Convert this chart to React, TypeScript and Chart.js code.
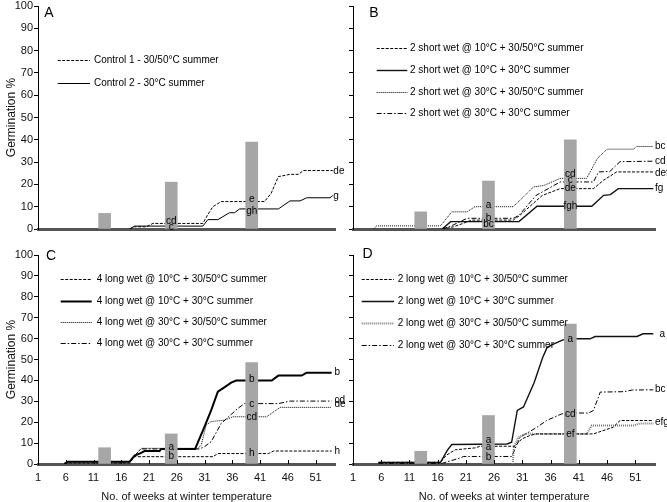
import React, { useEffect, useRef } from 'react';
import { Chart, registerables } from 'chart.js';

Chart.register(...registerables);

const FAMILY = "'Liberation Sans', Arial, Helvetica, sans-serif";
Chart.defaults.font.family = FAMILY;

// ---------------- data ----------------
const X_TICKS = [1, 6, 11, 16, 21, 26, 31, 36, 41, 46, 51];
const BAR_WEEKS = [13, 25, 39.5];
const X_TITLE = 'No. of weeks at winter temperature';
const Y_TITLE = 'Germination %';

// Panel A
const A_LEGEND = ['Control 1 - 30/50°C summer', 'Control 2 - 30°C summer'];
const A_BARS = [7, 21, 39];
const A1_WEEKS = [17.5, 18.4, 20.5, 21.7, 30.7, 31.6, 32.5, 34.0, 41.8, 43.0, 44.3, 46.4, 47.9, 48.8, 54.1];
const A1_VALUES = [0, 1, 1, 2.5, 2.5, 6.5, 10, 12.3, 12.3, 16, 23.5, 24.5, 24.5, 26.2, 26.2];
const A2_WEEKS = [17.5, 18.4, 30.7, 31.6, 33.4, 35.5, 36.4, 37.3, 44.3, 46.4, 48.2, 49.4, 53.6, 54.1];
const A2_VALUES = [0, 1.3, 1.3, 4.2, 4.2, 7.3, 7.3, 9, 9, 12.6, 12.6, 14, 14, 15];
const A_BAR_NOTES: [string, number, number][] = [['cd', 25, 3.6], ['c', 25, 1.0], ['e', 39.5, 13.3], ['gh', 39.5, 7.8]];
const A_END_NOTES: [string, number, number][] = [['de', 54.2, 26], ['g', 54.2, 14.7]];

// Panel B
const B_LEGEND = [
  '2 short wet @ 10°C + 30/50°C summer',
  '2 short wet @ 10°C + 30°C summer',
  '2 short wet @ 30°C + 30/50°C summer',
  '2 short wet @ 30°C + 30°C summer',
];
const B_BARS = [7.7, 21.5, 40];
const B1_WEEKS = [16.8, 18.8, 20.5, 22.0, 29.4, 30.5, 34.5, 37.7, 43.6, 45.4, 47.7, 54.2];
const B1_VALUES = [0, 1, 2.5, 4, 4, 6, 15, 18.1, 18.1, 21.9, 25.6, 25.6];
const B2_WEEKS = [16.8, 18.3, 30.4, 33.6, 43.3, 45.4, 46.6, 48.0, 54.2];
const B2_VALUES = [0, 3.3, 3.3, 10.2, 10.2, 15.1, 15.4, 18.1, 18.1];
const B3_WEEKS = [4.6, 5.2, 16.5, 18.5, 21.2, 22.6, 29.4, 31.2, 33.0, 34.8, 37.7, 42.4, 44.3, 46.0, 50.7, 51.2, 54.2];
const B3_VALUES = [0, 1.4, 1.4, 7.7, 7.7, 10, 10, 14.4, 18.9, 19.5, 22.7, 22.7, 31.7, 35.8, 35.8, 37, 37];
const B4_WEEKS = [16.8, 18.5, 21.2, 29.4, 30.4, 33.4, 37.7, 43.6, 44.5, 46.5, 48.3, 54.2];
const B4_VALUES = [0, 1.5, 4.8, 4.8, 6.1, 15, 21.1, 21.1, 25.6, 25.8, 30.2, 30.4];
const B_BAR_NOTES: [string, number, number][] = [
  ['a', 25, 10.8], ['b', 25, 4.8], ['bc', 25, 2.2],
  ['cd', 39.5, 24.5], ['c', 39.5, 21.7], ['de', 39.5, 18.4], ['fgh', 39.5, 10.3],
];
const B_END_NOTES: [string, number, number][] = [['bc', 54.5, 36.9], ['cd', 54.5, 30.5], ['def', 54.5, 25.2], ['fg', 54.5, 18.1]];

// Panel C
const C_LEGEND = [
  '4 long wet @ 10°C + 30/50°C summer',
  '4 long wet @ 10°C + 30°C summer',
  '4 long wet @ 30°C + 30/50°C summer',
  '4 long wet @ 30°C + 30°C summer',
];
const C_BARS = [7.8, 14.4, 48.5];
const C1_WEEKS = [5.75, 17.5, 18.4, 32.5, 33.4, 42.5, 43.4, 53.9];
const C1_VALUES = [0.5, 0.5, 3.5, 3.5, 5, 5, 6.2, 6.2];
const C2_WEEKS = [5.75, 6.4, 17.5, 18.4, 19.3, 20.2, 22.9, 23.2, 29.3, 31.0, 32.2, 33.4, 34.3, 35.8, 36.7, 43.1, 44.3, 48.5, 49.4, 53.9];
const C2_VALUES = [0, 1.1, 1.1, 4, 5, 6.2, 6.2, 7.2, 7.2, 17.9, 25.8, 34.6, 36.2, 38.9, 39.9, 39.9, 42.3, 42.3, 43.7, 43.7];
const C3_WEEKS = [5.75, 6.4, 17.5, 19.6, 29.8, 30.4, 31.3, 32.2, 34.6, 36.1, 42.2, 44.6, 53.9];
const C3_VALUES = [0, 1.1, 1.1, 7.5, 7.5, 9, 18.7, 20.3, 21, 22.6, 22.6, 27.1, 27.1];
const C4_WEEKS = [5.75, 6.4, 17.5, 19.5, 30.1, 31.0, 32.2, 34.0, 35.5, 37.0, 38.2, 44.3, 46.4, 53.9];
const C4_VALUES = [0, 1.1, 1.1, 7.2, 7.2, 8.3, 10.7, 19.4, 23, 26.6, 28.9, 28.9, 30.1, 30.1];
const C_BAR_NOTES: [string, number, number][] = [
  ['a', 25, 7.8], ['b', 25, 3.5],
  ['b', 39.5, 40.5], ['c', 39.5, 28.8], ['cd', 39.5, 22.3], ['h', 39.5, 5.1],
];
const C_END_NOTES: [string, number, number][] = [['b', 54.4, 43.7], ['cd', 54.4, 30.6], ['de', 54.4, 28.4], ['h', 54.4, 6.2]];

// Panel D
const D_LEGEND = [
  '2 long wet @ 10°C + 30/50°C summer',
  '2 long wet @ 10°C + 30°C summer',
  '2 long wet @ 30°C + 30/50°C summer',
  '2 long wet @ 30°C + 30°C summer',
];
const D_BARS = [6.1, 23.2, 67];
const D1_WEEKS = [5.5, 16.5, 17.5, 19.1, 22.6, 23.5, 29.7, 30.9, 32.4, 33.6, 43.6, 47.1, 48.3, 54.2];
const D1_VALUES = [0.8, 0.8, 4.1, 6.8, 7.7, 8.5, 8.5, 12, 13.7, 14.4, 14.4, 17.6, 20.8, 20.8];
const D2_WEEKS = [5.5, 16.5, 17.7, 18.5, 28.3, 29.1, 30.1, 31.2, 33.1, 34.6, 35.4, 36.6, 38.2, 40.3, 43.0, 43.9, 51.3, 52.4, 54.2];
const D2_VALUES = [0.8, 0.8, 6.5, 9.3, 9.6, 10.4, 25.6, 27.3, 39, 51, 55.8, 57.5, 59.4, 59.9, 59.9, 61, 61, 62.3, 62.3];
const D3_WEEKS = [29.3, 29.5, 30.3, 31.8, 33.0, 42.4, 43.3, 50.7, 51.8, 54.2];
const D3_VALUES = [0, 8, 12.8, 14.7, 14.4, 14.4, 18.4, 18.4, 19.4, 19.4];
const D4_WEEKS = [5.5, 16.8, 19.5, 20.6, 29.1, 30.6, 33.6, 35.3, 38.0, 40.6, 42.7, 43.6, 44.8, 49.0, 50.5, 54.2];
const D4_VALUES = [0.3, 0.3, 2.5, 3.6, 3.6, 12.8, 17.6, 20.8, 24, 24.4, 24.4, 25.6, 34.4, 34.6, 35.4, 35.5];
const D_BAR_NOTES: [string, number, number][] = [
  ['a', 25, 11.5], ['a', 25, 8], ['b', 25, 3],
  ['a', 39.5, 59.7], ['cd', 39.5, 24], ['ef', 39.5, 14.4],
];
const D_END_NOTES: [string, number, number][] = [['a', 55.3, 62.3], ['bc', 54.5, 35.6], ['efg', 54.5, 20.2]];

// ---------------- styles ----------------
type LineStyle = { color: string; width: number; dash: number[] };
const DASHED: LineStyle = { color: '#000', width: 1, dash: [3, 1.5] };
const SOLID: LineStyle = { color: '#000', width: 1, dash: [] };
const SOLID_MID: LineStyle = { color: '#111', width: 1.4, dash: [] };
const SOLID_THICK: LineStyle = { color: '#000', width: 2, dash: [] };
const DOTTED: LineStyle = { color: '#000', width: 1, dash: [1, 1] };
const DOTTED_GRAY: LineStyle = { color: '#7a7a7a', width: 2, dash: [1, 1] };
const DASHDOT: LineStyle = { color: '#000', width: 1, dash: [5, 2, 1.5, 2] };
const BAR_COLOR = '#a6a6a6';

type Series = { weeks: number[]; values: number[]; style: LineStyle };
type PanelDef = {
  letter: string;
  area: { left: number; top: number; right: number; bottom: number };
  yW: number;
  xLabels: boolean;
  yLabels: boolean;
  legend: string[];
  series: Series[];
  bars: number[];
  barNotes: [string, number, number][];
  endNotes: [string, number, number][];
  lg: { x1: number; x2: number; tx: number; rows: number[] };
  lt: { dx: number; dy: number };
};

const PANELS: PanelDef[] = [
  {
    letter: 'A',
    area: { left: 38, top: 6, right: 335, bottom: 229 },
    yW: 38, xLabels: false, yLabels: true,
    legend: A_LEGEND,
    series: [
      { weeks: A1_WEEKS, values: A1_VALUES, style: DASHED },
      { weeks: A2_WEEKS, values: A2_VALUES, style: SOLID },
    ],
    bars: A_BARS, barNotes: A_BAR_NOTES, endNotes: A_END_NOTES,
    lg: { x1: 19.7, x2: 52, tx: 56, rows: [54, 77.3] },
    lt: { dx: 11, dy: 7.3 },
  },
  {
    letter: 'B',
    area: { left: 353, top: 6, right: 655, bottom: 229 },
    yW: 13, xLabels: false, yLabels: false,
    legend: B_LEGEND,
    series: [
      { weeks: B1_WEEKS, values: B1_VALUES, style: DASHED },
      { weeks: B2_WEEKS, values: B2_VALUES, style: SOLID_MID },
      { weeks: B3_WEEKS, values: B3_VALUES, style: DOTTED },
      { weeks: B4_WEEKS, values: B4_VALUES, style: DASHDOT },
    ],
    bars: B_BARS, barNotes: B_BAR_NOTES, endNotes: B_END_NOTES,
    lg: { x1: 23.7, x2: 54.3, tx: 57, rows: [41.7, 64, 85.7, 107.3] },
    lt: { dx: 21, dy: 7.3 },
  },
  {
    letter: 'C',
    area: { left: 38, top: 255, right: 335, bottom: 464 },
    yW: 38, xLabels: true, yLabels: true,
    legend: C_LEGEND,
    series: [
      { weeks: C1_WEEKS, values: C1_VALUES, style: DASHED },
      { weeks: C2_WEEKS, values: C2_VALUES, style: SOLID_THICK },
      { weeks: C3_WEEKS, values: C3_VALUES, style: DOTTED },
      { weeks: C4_WEEKS, values: C4_VALUES, style: DASHDOT },
    ],
    bars: C_BARS, barNotes: C_BAR_NOTES, endNotes: C_END_NOTES,
    lg: { x1: 22.7, x2: 53.7, tx: 58.7, rows: [24.3, 46, 66.7, 88.3] },
    lt: { dx: 13, dy: 1 },
  },
  {
    letter: 'D',
    area: { left: 353, top: 255, right: 655, bottom: 464 },
    yW: 13, xLabels: true, yLabels: false,
    legend: D_LEGEND,
    series: [
      { weeks: D1_WEEKS, values: D1_VALUES, style: DASHED },
      { weeks: D2_WEEKS, values: D2_VALUES, style: SOLID_MID },
      { weeks: D3_WEEKS, values: D3_VALUES, style: DOTTED_GRAY },
      { weeks: D4_WEEKS, values: D4_VALUES, style: DASHDOT },
    ],
    bars: D_BARS, barNotes: D_BAR_NOTES, endNotes: D_END_NOTES,
    lg: { x1: 8.7, x2: 41, tx: 44.7, rows: [24.3, 46, 67.7, 90] },
    lt: { dx: 14.5, dy: -0.5 },
  },
];

const CW = 667;
const CH = 520;

function decor(p: PanelDef) {
  return {
    id: 'decor' + p.letter,
    afterDatasetsDraw(chart: any) {
      const { ctx, chartArea: ca, scales } = chart;
      const xs = scales.x;
      const ys = scales.y;
      ctx.save();
      if (p.xLabels) {
        ctx.strokeStyle = '#000';
        ctx.lineWidth = 1;
        ctx.setLineDash([]);
        X_TICKS.forEach((v) => {
          const x = Math.round(xs.getPixelForValue(v)) + 0.5;
          ctx.beginPath();
          ctx.moveTo(x, ca.bottom);
          ctx.lineTo(x, ca.bottom - 4);
          ctx.stroke();
        });
      }
      ctx.fillStyle = '#000';
      ctx.font = '10px ' + FAMILY;
      ctx.textBaseline = 'middle';
      ctx.textAlign = 'center';
      p.barNotes.forEach(([t, w, v]) => ctx.fillText(t, xs.getPixelForValue(w), ys.getPixelForValue(v)));
      ctx.textAlign = 'left';
      p.endNotes.forEach(([t, w, v]) => ctx.fillText(t, xs.getPixelForValue(w), ys.getPixelForValue(v)));
      p.legend.forEach((label, i) => {
        const st = p.series[i].style;
        const y = Math.round(ca.top + p.lg.rows[i]) + 0.5;
        ctx.strokeStyle = st.color;
        ctx.lineWidth = st.width;
        ctx.setLineDash(st.dash);
        ctx.beginPath();
        ctx.moveTo(ca.left + p.lg.x1, y);
        ctx.lineTo(ca.left + p.lg.x2, y);
        ctx.stroke();
        ctx.setLineDash([]);
        ctx.fillStyle = '#000';
        ctx.fillText(label, ca.left + p.lg.tx, y);
      });
      ctx.font = '14px ' + FAMILY;
      ctx.textAlign = 'center';
      ctx.fillText(p.letter, ca.left + p.lt.dx, ca.top + p.lt.dy);
      ctx.restore();
    },
  };
}

function buildChart(canvas: HTMLCanvasElement, p: PanelDef) {
  const xH = p.xLabels ? 40 : 0;
  const datasets: any[] = p.series.map((s, i) => ({
    type: 'line',
    label: p.legend[i],
    data: s.weeks.map((w, j) => ({ x: w, y: s.values[j] })),
    borderColor: s.style.color,
    borderWidth: s.style.width,
    borderDash: s.style.dash,
    pointRadius: 0,
    tension: 0,
    fill: false,
    order: 1,
  }));
  datasets.push({
    type: 'bar',
    label: 'bars',
    data: BAR_WEEKS.map((w, j) => ({ x: w, y: p.bars[j] })),
    backgroundColor: BAR_COLOR,
    borderWidth: 0,
    barThickness: 12,
    order: 0,
  });
  return new Chart(canvas, {
    type: 'line',
    data: { datasets },
    options: {
      responsive: false,
      animation: false,
      devicePixelRatio: 1,
      events: [],
      layout: {
        padding: {
          left: p.area.left - p.yW,
          top: p.area.top,
          right: CW - p.area.right,
          bottom: CH - p.area.bottom - xH,
        },
      },
      plugins: { legend: { display: false }, tooltip: { enabled: false } },
      scales: {
        x: {
          type: 'linear',
          min: 1,
          max: 54.5,
          offset: false,
          afterBuildTicks: (s: any) => {
            s.ticks = X_TICKS.map((v) => ({ value: v }));
          },
          afterFit: (s: any) => {
            s.height = xH;
            s.paddingLeft = 0;
            s.paddingRight = 0;
          },
          grid: { display: false, drawTicks: false },
          border: { display: true, color: '#555', width: 3 },
          ticks: {
            display: p.xLabels,
            autoSkip: false,
            maxRotation: 0,
            padding: 7,
            color: '#111',
            font: { size: 11, family: FAMILY },
          },
          title: {
            display: p.xLabels,
            text: X_TITLE,
            color: '#111',
            font: { size: 11, family: FAMILY },
            padding: { top: 0, bottom: 0 },
          },
        },
        y: {
          type: 'linear',
          min: 0,
          max: 100,
          afterFit: (s: any) => {
            s.width = p.yW;
            s.paddingTop = 0;
            s.paddingBottom = 0;
          },
          grid: { display: true, drawOnChartArea: false, drawTicks: true, tickLength: 4, color: '#000', lineWidth: 1 },
          border: { display: true, color: '#000', width: 1 },
          ticks: {
            display: p.yLabels,
            stepSize: 10,
            padding: 1,
            color: '#111',
            font: { size: 11, family: FAMILY },
          },
          title: {
            display: p.yLabels,
            text: Y_TITLE,
            color: '#111',
            font: { size: 12, family: FAMILY },
            padding: { top: 4, bottom: 0 },
          },
        },
      },
    } as any,
    plugins: [decor(p)],
  } as any);
}

function Panel({ p }: { p: PanelDef }) {
  const ref = useRef<HTMLCanvasElement>(null);
  useEffect(() => {
    const chart = buildChart(ref.current as HTMLCanvasElement, p);
    return () => chart.destroy();
  }, [p]);
  return (
    <canvas
      ref={ref}
      width={CW}
      height={CH}
      style={{ position: 'absolute', left: 0, top: 0, width: CW, height: CH }}
    />
  );
}

export default function App() {
  return (
    <div
      style={{
        position: 'fixed',
        left: 0,
        top: 0,
        width: CW,
        height: 502,
        overflow: 'hidden',
        background: '#fff',
      }}
    >
      {PANELS.map((p) => (
        <Panel key={p.letter} p={p} />
      ))}
    </div>
  );
}
